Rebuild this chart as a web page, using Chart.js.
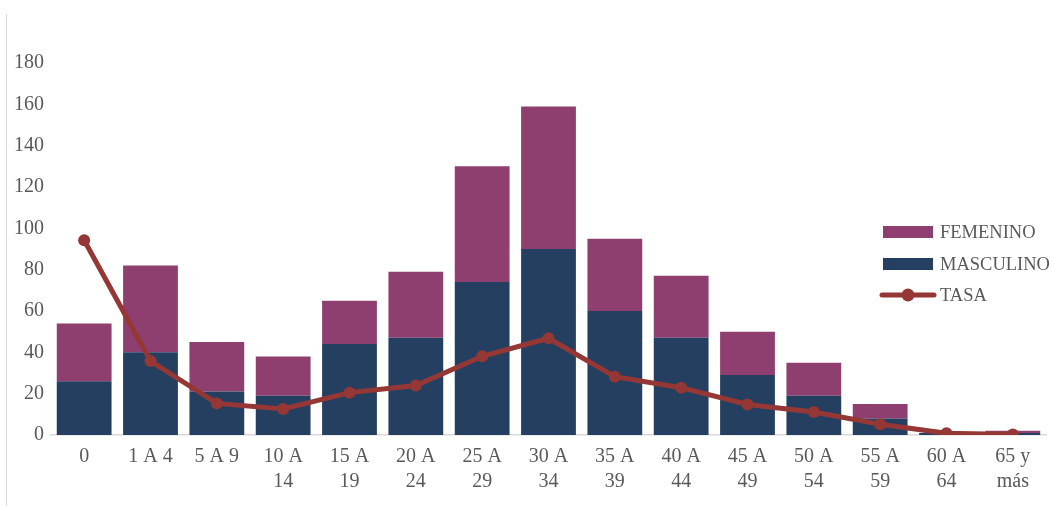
<!DOCTYPE html>
<html>
<head>
<meta charset="utf-8">
<script src="https://cdn.jsdelivr.net/npm/chart.js@4.4.1/dist/chart.umd.min.js"></script>
<style>
  html, body { margin: 0; padding: 0; background: #ffffff; }
  #wrap { position: relative; width: 1052px; height: 506px; }
  #frame { position: absolute; left: 6px; top: 14px; width: 0; height: 492px; border-left: 1px solid #d9d9d9; }
  canvas { position: absolute; left: 0; top: 0; }
</style>
</head>
<body>
<div id="wrap">
  <div id="frame"></div>
  <canvas id="c" width="1052" height="506"></canvas>
</div>
<script>
const categories = [
  ['0'], ['1 A 4'], ['5 A 9'], ['10 A', '14'], ['15 A', '19'], ['20 A', '24'],
  ['25 A', '29'], ['30 A', '34'], ['35 A', '39'], ['40 A', '44'], ['45 A', '49'],
  ['50 A', '54'], ['55 A', '59'], ['60 A', '64'], ['65 y', 'más']
];
const masculino = [26, 40, 21, 19, 44, 47, 74, 90, 60, 47, 29, 19, 8, 1, 1];
const femenino  = [28, 42, 24, 19, 21, 32, 56, 69, 35, 30, 21, 16, 7, 0, 1];
const tasa      = [94.2, 35.8, 15.3, 12.6, 20.5, 23.9, 38.1, 46.8, 28.2, 22.9, 14.8, 11.1, 5.2, 0.8, 0.3];
const yTicks    = [0, 20, 40, 60, 80, 100, 120, 140, 160, 180];

const FONT = "'Liberation Serif', 'DejaVu Serif', serif";
const TXT = '#595959';
const C_FEM = '#8f3f6f';
const C_MAS = '#243f60';
const C_TASA = '#953735';

const legendPlugin = {
  id: 'customLegend',
  afterDraw(chart) {
    const ctx = chart.ctx;
    const ds = chart.data.datasets;
    const items = [ds[0], ds[1], ds[2]];
    const rows = [232, 264, 295];
    ctx.save();
    ctx.font = '18.5px ' + FONT;
    ctx.textBaseline = 'middle';
    ctx.textAlign = 'left';
    items.forEach((d, i) => {
      const y = rows[i];
      if (d.type === 'line') {
        ctx.strokeStyle = d.borderColor;
        ctx.lineWidth = 5;
        ctx.lineCap = 'round';
        ctx.beginPath();
        ctx.moveTo(882, y);
        ctx.lineTo(934, y);
        ctx.stroke();
        ctx.fillStyle = d.borderColor;
        ctx.beginPath();
        ctx.arc(908, y, 6.5, 0, Math.PI * 2);
        ctx.fill();
      } else {
        ctx.fillStyle = d.backgroundColor;
        ctx.fillRect(883, y - 6, 50, 12);
      }
      ctx.fillStyle = TXT;
      ctx.fillText(d.label, 940, y + 1);
    });
    ctx.restore();
  }
};

new Chart(document.getElementById('c'), {
  data: {
    labels: categories,
    datasets: [
      { type: 'bar', label: 'FEMENINO', data: femenino, backgroundColor: C_FEM, order: 2, stack: 'sexo',
        barPercentage: 0.826, categoryPercentage: 1.0 },
      { type: 'bar', label: 'MASCULINO', data: masculino, backgroundColor: C_MAS, order: 1, stack: 'sexo',
        barPercentage: 0.826, categoryPercentage: 1.0 },
      { type: 'line', label: 'TASA', data: tasa, borderColor: C_TASA, backgroundColor: C_TASA, order: 0, stack: 'tasa',
        borderWidth: 5, pointRadius: 6, pointHoverRadius: 6, pointBackgroundColor: C_TASA, pointBorderColor: C_TASA,
        pointBorderWidth: 0, tension: 0, fill: false }
    ]
  },
  options: {
    responsive: false,
    animation: false,
    events: [],
    layout: { padding: { top: 63, right: 2, left: 0, bottom: 0 } },
    plugins: { legend: { display: false }, tooltip: { enabled: false }, title: { display: false } },
    scales: {
      x: {
        stacked: true,
        grid: { display: false, drawTicks: false },
        border: { display: true, color: '#d9d9d9', width: 1.5 },
        ticks: { color: TXT, font: { family: FONT, size: 20, lineHeight: 1.22 }, padding: 10, maxRotation: 0, autoSkip: false },
        afterFit(scale) { scale.height = 71; }
      },
      y: {
        stacked: true,
        min: 0, max: 180,
        afterBuildTicks(scale) { scale.ticks = yTicks.map(v => ({ value: v })); },
        grid: { display: false, drawTicks: false },
        border: { display: false },
        ticks: { color: TXT, font: { family: FONT, size: 20 }, padding: 7 },
        afterFit(scale) { scale.width = 51; }
      }
    }
  },
  plugins: [legendPlugin]
});
</script>
</body>
</html>
